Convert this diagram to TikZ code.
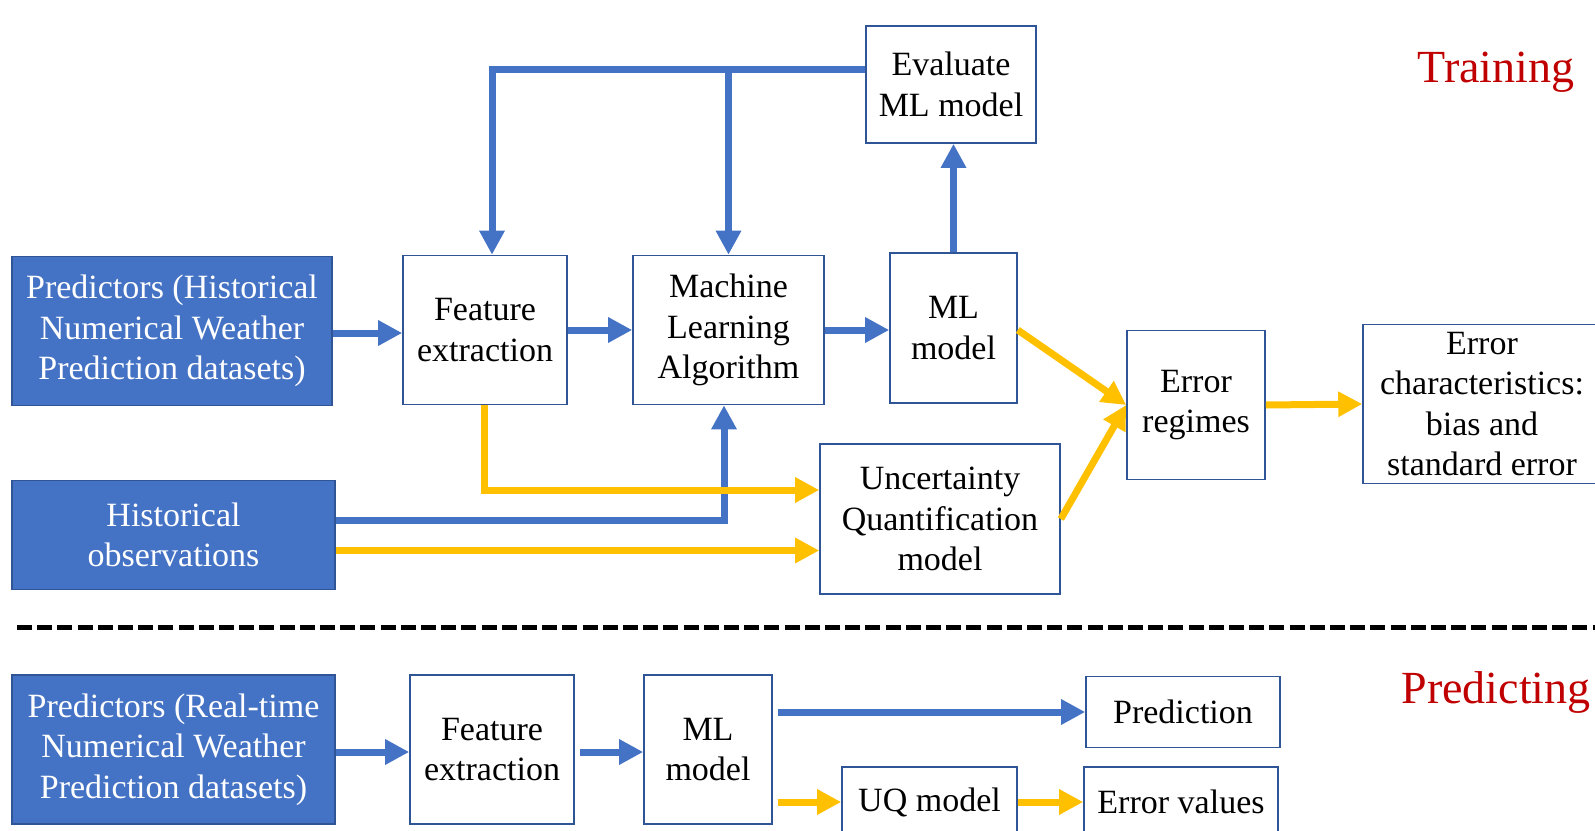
\documentclass[tikz,border=0pt]{standalone}
\usepackage{fontspec}
\setmainfont{Liberation Serif}
\newfontfamily\tnr{Liberation Serif}
\usetikzlibrary{arrows.meta}
\definecolor{fillblue}{RGB}{68,114,196}
\definecolor{edgeblue}{RGB}{47,85,151}
\definecolor{arrblue}{RGB}{68,114,196}
\definecolor{arryel}{RGB}{255,192,0}
\definecolor{titlered}{RGB}{192,0,0}
\tikzset{
  box/.style={draw=edgeblue, line width=0.8pt, fill=white, align=center, inner sep=1pt,
    font=\tnr\fontsize{17}{20.3}\selectfont},
  fbox/.style={box, fill=fillblue, text=white},
  barrow/.style={draw=arrblue, line width=3.5pt, -{Triangle[length=12pt,width=12pt]}},
  yarrow/.style={draw=arryel, line width=3.5pt, -{Triangle[length=12pt,width=12pt]}},
  ttl/.style={text=titlered, font=\tnr\fontsize{23}{27}\selectfont, inner sep=0pt}
}
\begin{document}
\begin{tikzpicture}[x=0.5pt,y=-0.5pt]
\useasboundingbox (0,0) rectangle (1595,830);
\clip (0,0) rectangle (1595,830);
% training nodes
\node[fbox, minimum width=160pt, minimum height=74.5pt] (ph) at (172,331) {Predictors (Historical\\Numerical Weather\\Prediction datasets)};
\node[box, minimum width=82pt, minimum height=74.5pt] (fe) at (485,330) {Feature\\extraction};
\node[box, minimum width=95.5pt, minimum height=74.5pt] (mla) at (728.5,330) {Machine\\Learning\\Algorithm};
\node[box, minimum width=63.5pt, minimum height=75pt] (mlm) at (953.5,328) {ML\\model};
\node[box, minimum width=85pt, minimum height=58.5pt] (ev) at (951,84.5) {Evaluate\\ML model};
\node[box, minimum width=69pt, minimum height=74.5pt] (er) at (1196,405) {Error\\regimes};
\node[box, minimum width=120pt, minimum height=75pt] (uq) at (940,519) {Uncertainty\\Quantification\\model};
\node[box, inner sep=0pt, minimum width=119pt, minimum height=79.5pt] (ec) at (1482,404) {Error\\characteristics:\\bias and\\standard error};
\node[fbox, minimum width=161.5pt, minimum height=54.5pt] (ho) at (173.5,535) {Historical\\observations};
\node[ttl] (tr) at (1496,72) {Training};
% separator
\coordinate (dl) at (17,627);
\coordinate (dr) at (1595,627);
\draw[line width=2.5pt, dash pattern=on 7.5pt off 2.6pt] (dl) -- (dr);
% predicting nodes
\node[fbox, minimum width=161.5pt, minimum height=74.5pt] (pr) at (173.5,749.5) {Predictors (Real-time\\Numerical Weather\\Prediction datasets)};
\node[box, minimum width=82pt, minimum height=74.5pt] (fe2) at (492,749.5) {Feature\\extraction};
\node[box, minimum width=64pt, minimum height=74.5pt] (ml2) at (708,749.5) {ML\\model};
\node[box, minimum width=97pt, minimum height=35.5pt] (pd) at (1183,712) {Prediction};
\node[box, minimum width=87.5pt, minimum height=35pt] (uq2) at (929.5,802) {UQ model};
\node[box, minimum width=97pt, minimum height=35pt] (ev2) at (1181,802) {Error values};
\node[ttl] (pg) at (1496,692) {Predicting};
% training connectors
\draw[barrow] ([yshift=-1pt]ph.east) -- ([yshift=-1pt]ph.east -| fe.west);
\draw[barrow] (fe) -- (mla);
\draw[barrow] (mla.east) -- (mla.east -| mlm.west);
\draw[barrow] (mlm.north) -- (mlm.north |- ev.south);
\coordinate (fb) at (492,69);
\draw[barrow] (ev.west |- fb) -| (fb |- fe.north);
\draw[barrow] (mla.north |- fb) -- (mla.north);
\draw[barrow] ([yshift=7.25pt]ho.east) -| ([xshift=-2.25pt]mla.south);
\draw[yarrow] ([xshift=-0.5pt]fe.south) |- ([yshift=14.5pt]uq.west);
\draw[yarrow] ([yshift=-7.75pt]ho.east) -- ([yshift=-7.75pt]ho.east -| uq.west);
\draw[yarrow] ([yshift=-1pt]mlm.east) -- (er.west);
\draw[yarrow] (uq.east) -- (er.west);
\draw[yarrow] (er.east) -- (ec.west);
% predicting connectors
\draw[barrow] ([yshift=-1.25pt]pr.east) -- ([yshift=-1.25pt]fe2.west);
\draw[barrow] ([xshift=2.5pt,yshift=-1.25pt]fe2.east) -- ([yshift=-1.25pt]ml2.west);
\draw[barrow] ([xshift=2.5pt]ml2.east |- pd.west) -- (pd.west);
\draw[yarrow] ([xshift=2.5pt]ml2.east |- uq2.west) -- (uq2.west);
\draw[yarrow] (uq2) -- (ev2);
\end{tikzpicture}
\end{document}
